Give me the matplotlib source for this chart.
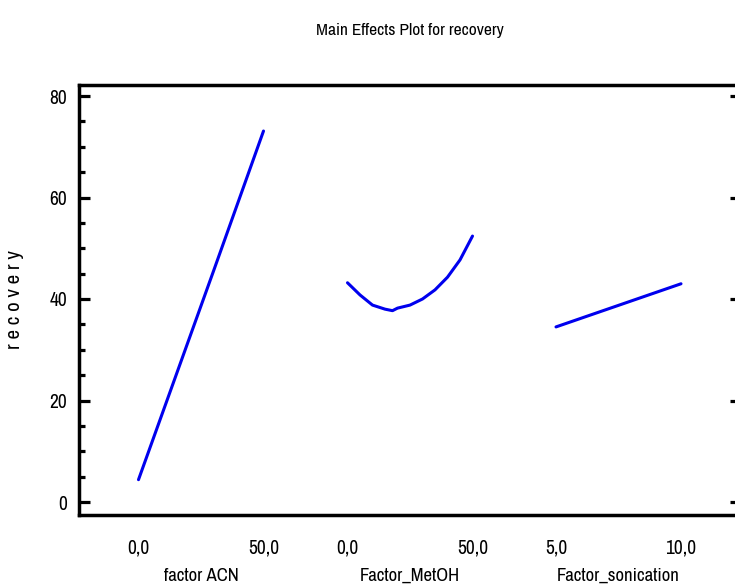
import matplotlib
matplotlib.use("Agg")
import matplotlib.pyplot as plt
from matplotlib import font_manager as fm

# ---------------- data ----------------
acn_x = [0, 10, 20, 30, 40, 50]
acn_y = [4.4, 18.1, 31.8, 45.5, 59.3, 73.1]

metoh_x = [0, 5, 10, 15, 18, 20, 25, 30, 35, 40, 45, 50]
metoh_y = [43.2, 40.8, 38.8, 38.0, 37.7, 38.2, 38.8, 40.0, 41.8, 44.3, 47.7, 52.4]

son_x = [5, 6, 7, 8, 9, 10]
son_y = [34.5, 36.2, 37.9, 39.6, 41.3, 43.0]

factor_names = ["factor ACN", "Factor_MetOH", "Factor_sonication"]
factor_ticks = [[0, 50], [0, 50], [5, 10]]
factor_ticklabels = [["0,0", "50,0"], ["0,0", "50,0"], ["5,0", "10,0"]]
y_ticks = [0, 20, 40, 60, 80]
y_minor = [5, 10, 15, 25, 30, 35, 45, 50, 55, 65, 70, 75]
title = "Main Effects Plot for recovery"
ylabel = "r e c o v e r y"

# ---------------- font: pick a narrow face if available ----------------
def pick_font():
    prefs = ["narrow", "extracondensed", "semicondensed", "condensed"]
    for key in prefs:
        for f in fm.fontManager.ttflist:
            fn = f.fname.lower().replace("-", "").replace("_", "")
            name = (f.name + " " + f.fname).lower().replace(" ", "").replace("-", "")
            if key in name and f.weight in (400, "normal", "regular") and f.style == "normal":
                if "bold" in fn or "italic" in fn or "light" in fn or "thin" in fn or "medium" in fn or "black" in fn:
                    continue
                if key == "condensed" and ("extracondensed" in name or "semicondensed" in name):
                    continue
                return f.fname
    return None

fpath = pick_font()

def fp(size):
    if fpath:
        return fm.FontProperties(fname=fpath, size=size)
    return fm.FontProperties(family="DejaVu Sans", size=size)

W, H = 735, 588
fig = plt.figure(figsize=(W / 100, H / 100), dpi=100)

# frame geometry in pixels
L, R, T, B = 78.5, 741.0, 85.0, 514.5
y0_px, y80_px = 502.0, 96.0
ppu = (y0_px - y80_px) / 80.0
ymin = (y0_px - B) / ppu
ymax = 80 + (y80_px - T) / ppu

def fx(px):
    return px / W

def fy(py):
    return 1 - py / H

ax = fig.add_axes([fx(L), fy(B), fx(R) - fx(L), fy(T) - fy(B)])
ax.set_xlim(0, 1)
ax.set_ylim(ymin, ymax)
ax.set_xticks([])
ax.set_yticks(y_ticks)
ax.set_yticks(y_minor, minor=True)
ax.set_yticklabels([str(v) for v in y_ticks], fontproperties=fp(14))
ax.tick_params(axis="y", which="major", direction="in", length=8, width=2.3,
               left=True, right=True, pad=8)
ax.tick_params(axis="y", which="minor", direction="in", length=4.5, width=2.3,
               left=True, right=True)
for s in ax.spines.values():
    s.set_linewidth(2.5)

# child axes, one per factor, mapped to the pixel spans
spans = [(138.5, 263.5), (347.5, 472.5), (556.0, 681.0)]
series = [(acn_x, acn_y), (metoh_x, metoh_y), (son_x, son_y)]
for (p0, p1), (xs, ys), ticks, tl, name in zip(spans, series, factor_ticks,
                                               factor_ticklabels, factor_names):
    sub = fig.add_axes([fx(p0), fy(B), fx(p1) - fx(p0), fy(T) - fy(B)])
    sub.patch.set_alpha(0)
    for s in sub.spines.values():
        s.set_visible(False)
    sub.set_xlim(ticks[0], ticks[1])
    sub.set_ylim(ymin, ymax)
    sub.set_yticks([])
    sub.set_xticks(ticks)
    sub.set_xticklabels(tl, fontproperties=fp(14))
    sub.tick_params(axis="x", length=0, pad=17)
    sub.set_xlabel(name, fontproperties=fp(13.5), labelpad=8)
    sub.plot(xs, ys, color="#0000ee", linewidth=2.2, clip_on=False,
             solid_capstyle="round")

fig.text(fx(15), fy(300), ylabel, rotation=90, ha="center", va="center",
         fontproperties=fp(15))
fig.text(fx(410), fy(30), title, ha="center", va="center", fontproperties=fp(12.5))

fig.savefig("out.png", dpi=100)
